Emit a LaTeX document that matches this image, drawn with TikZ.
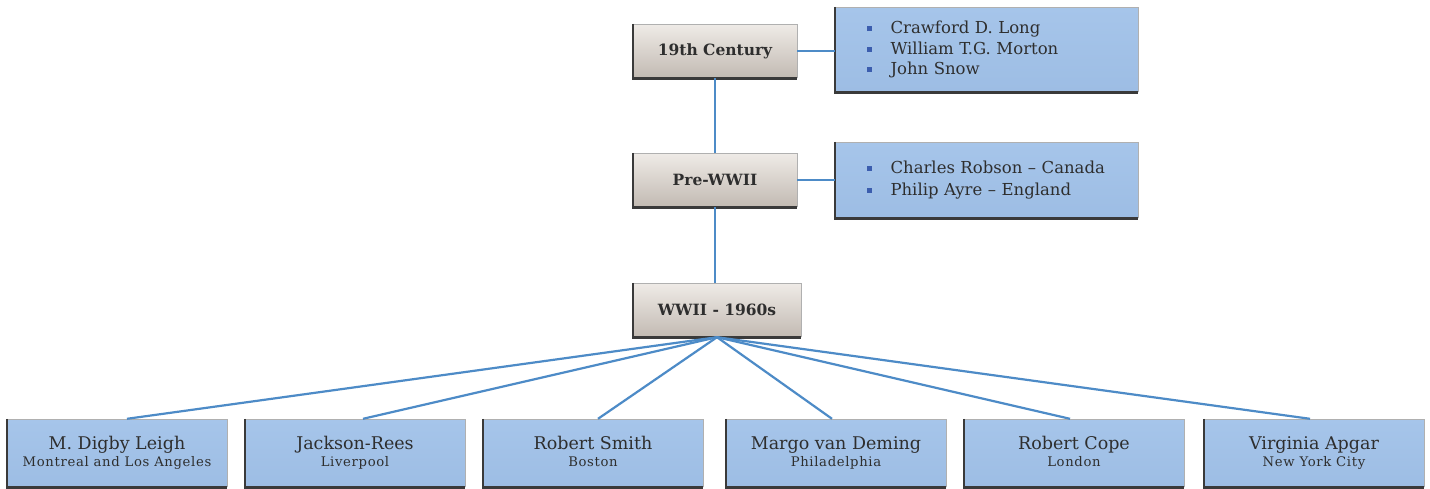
\documentclass[tikz,border=0pt]{standalone}
\usepackage{fontspec}
\setmainfont{DejaVu Serif}
\newfontfamily\subfont[LetterSpace=5]{DejaVu Serif}
\definecolor{txt}{HTML}{2E2E2E}
\definecolor{boxblue}{HTML}{A6C5EA}
\definecolor{boxblueb}{HTML}{9DBDE4}
\definecolor{linkblue}{HTML}{4D8BC7}
\definecolor{bulblue}{HTML}{3B5DAE}
\definecolor{greytop}{HTML}{EFEBE7}
\definecolor{greybot}{HTML}{C2BAB2}
\definecolor{edgedark}{HTML}{3A3A3A}
\newcommand{\bul}{\textcolor{bulblue}{\rule[2.5pt]{5pt}{5pt}}\hspace{19pt}}
\tikzset{
  erabox/.style={rectangle, inner sep=0pt, minimum width=164pt, minimum height=54pt,
    top color=greytop, bottom color=greybot, draw=none,
    font=\bfseries\fontsize{15.5}{17}\selectfont, text=txt},
  listbox/.style={rectangle, inner sep=0pt, minimum width=303pt,
    top color=boxblue, bottom color=boxblueb, draw=none,
    font=\fontsize{16.5}{20.5}\selectfont, text=txt, align=left, text width=240pt},
  personbox/.style={rectangle, inner sep=0pt, minimum width=220pt, minimum height=68pt,
    top color=boxblue, bottom color=boxblueb, draw=none, text=txt, align=center},
  link/.style={draw=linkblue, line width=2.2pt},
  edge/.style={draw=edgedark, line width=2.6pt},
  edgelight/.style={draw=edgedark!40, line width=0.6pt}
}
\newcommand{\nm}[1]{{\fontsize{17.5}{20}\selectfont\strut #1}}
\newcommand{\pl}[1]{{\subfont\fontsize{13.2}{15}\selectfont\strut #1}}
\begin{document}
\begin{tikzpicture}[x=1pt,y=-1pt]
\useasboundingbox (0,0) rectangle (1430,488);
\fill[white] (0,0) rectangle (1430,488);

% era boxes
\node[erabox] (c19) at (715,51) {19th Century};
\node[erabox] (pre) at (715,180) {Pre-WWII};
\node[erabox, minimum width=168pt] (ww) at (717,310) {WWII - 1960s};

% list boxes
\node[listbox, minimum height=85pt] (l1) at (986.5,49.5) {\bul Crawford D. Long\\ \bul William T.G. Morton\\ \bul John Snow};
\node[listbox, minimum height=76pt, font=\fontsize{16.5}{22}\selectfont] (l2) at (986.5,180) {\bul Charles Robson -- Canada\\ \bul Philip Ayre -- England};

% person boxes
\node[personbox] (p1) at (117,453) {\nm{M. Digby Leigh}\\[0pt]\pl{Montreal and Los Angeles}};
\node[personbox] (p2) at (355,453) {\nm{Jackson-Rees}\\[0pt]\pl{Liverpool}};
\node[personbox] (p3) at (593,453) {\nm{Robert Smith}\\[0pt]\pl{Boston}};
\node[personbox] (p4) at (836,453) {\nm{Margo van Deming}\\[0pt]\pl{Philadelphia}};
\node[personbox] (p5) at (1074,453) {\nm{Robert Cope}\\[0pt]\pl{London}};
\node[personbox] (p6) at (1314,453) {\nm{Virginia Apgar}\\[0pt]\pl{New York City}};

% box edges (3D look)
\foreach \b in {c19,pre,ww,l1,l2,p1,p2,p3,p4,p5,p6}{
  \draw[edgelight] (\b.north west) -- (\b.north east) -- (\b.south east);
  \draw[edge] (\b.north west) -- (\b.south west) -- (\b.south east);
}

% connectors
\draw[link] (c19.east) -- (l1.west |- c19.east);
\draw[link] (pre.east) -- (l2.west |- pre.east);
\draw[link] (c19.south) -- (pre.north);
\draw[link] (pre.south) -- (pre.south |- ww.north);
\foreach \p/\dx in {p1/10,p2/8,p3/5,p4/-4,p5/-4,p6/-4}{
  \draw[link] (ww.south) -- ([xshift=\dx pt]\p.north);
}
\end{tikzpicture}
\end{document}
